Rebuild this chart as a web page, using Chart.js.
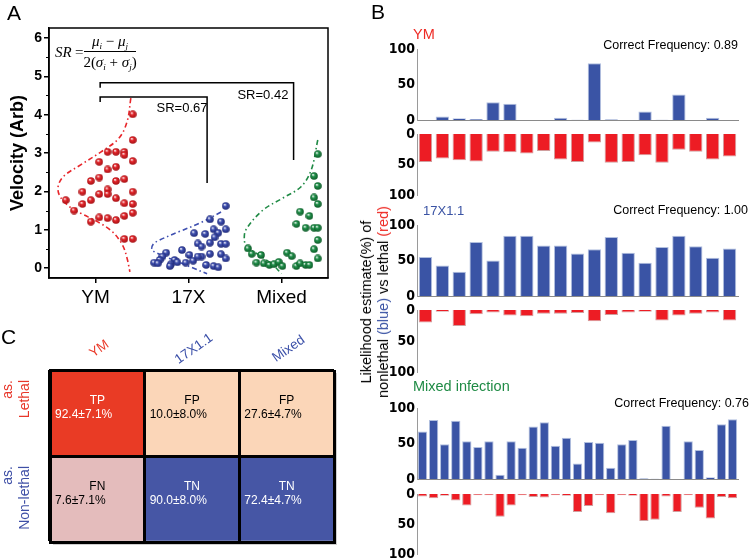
<!DOCTYPE html>
<html>
<head>
<meta charset="utf-8">
<script src="https://cdn.jsdelivr.net/npm/chart.js@4.4.0/dist/chart.umd.min.js"></script>
<style>
  body { margin: 0; width: 750px; height: 560px; overflow: hidden; background: #fff; position: relative;
         font-family: "Liberation Sans", Arial, sans-serif; }
  canvas { position: absolute; }
  .lbl { position: absolute; white-space: nowrap; line-height: 1; transform: translateY(-50%); }
  .ytitle { position: absolute; left: 375px; top: 302px; transform: translate(-50%, -50%) rotate(-90deg);
            font-size: 14.5px; line-height: 17px; text-align: center; white-space: nowrap; }
</style>
</head>
<body>
<canvas id="chartA" width="340" height="310" style="left:0;top:0"></canvas>
<canvas id="b1" width="372" height="91" style="left:375px;top:39px"></canvas>
<canvas id="b2" width="372" height="81" style="left:375px;top:124px"></canvas>
<canvas id="b3" width="372" height="91" style="left:375px;top:215px"></canvas>
<canvas id="b4" width="372" height="82" style="left:375px;top:300px"></canvas>
<canvas id="b5" width="372" height="91" style="left:375px;top:398px"></canvas>
<canvas id="b6" width="372" height="80" style="left:375px;top:484px"></canvas>
<canvas id="chartC" width="345" height="240" style="left:0;top:320px"></canvas>

<div class="lbl" style="left:7px;top:12px;font-size:21px">A</div>
<div class="lbl" style="left:371px;top:11px;font-size:21px">B</div>
<div class="lbl" style="left:1px;top:336px;font-size:21px">C</div>

<div class="lbl" style="left:413px;top:34px;font-size:14.5px;color:#ee2a24">YM</div>
<div class="lbl" style="right:12px;top:45px;font-size:12.5px">Correct Frequency: 0.89</div>
<div class="lbl" style="left:423px;top:210px;font-size:13px;color:#3a53a4">17X1.1</div>
<div class="lbl" style="right:2px;top:210px;font-size:12.5px">Correct Frequency: 1.00</div>
<div class="lbl" style="left:413px;top:386px;font-size:14.5px;color:#1f8b45">Mixed infection</div>
<div class="lbl" style="right:1px;top:403px;font-size:12.5px">Correct Frequency: 0.76</div>
<div class="ytitle">Likelihood estimate(%) of<br>nonlethal <span style="color:#3a53a4">(blue)</span> vs lethal <span style="color:#ee2a24">(red)</span></div>

<script>
// ---- panel A: velocity distributions ----
const groupNames = ["YM", "17X", "Mixed"];
const groupPos = [1, 2, 3];
const velTicks = [0, 1, 2, 3, 4, 5, 6];
const velMinor = [0.5, 1.5, 2.5, 3.5, 4.5, 5.5];

const ymDots = [
  [1.40, 4.01], [1.40, 3.34], [1.13, 3.03], [1.22, 3.03], [1.31, 3.03], [1.31, 2.95], [1.04, 2.77],
  [1.40, 2.79], [1.13, 2.57], [1.22, 2.64], [0.95, 2.27], [1.04, 2.36], [1.22, 2.27], [1.31, 2.32],
  [0.86, 1.99], [1.13, 2.05], [1.04, 1.93], [1.13, 1.93], [1.40, 1.99], [0.68, 1.77], [0.86, 1.67],
  [0.95, 1.77], [1.22, 1.82], [1.31, 1.69], [1.40, 1.67], [0.77, 1.50], [1.40, 1.44], [1.31, 1.36],
  [1.04, 1.32], [1.13, 1.30], [1.22, 1.25], [0.95, 1.21], [1.31, 0.76], [1.40, 0.76],
];
const x17Dots = [
  [2.40, 1.62], [2.23, 1.27], [2.35, 1.21], [2.06, 0.91], [2.18, 0.89], [2.27, 1.01], [2.32, 0.92],
  [2.40, 1.01], [2.28, 0.80], [2.23, 0.66], [2.10, 0.64], [2.14, 0.56], [2.35, 0.63], [2.40, 0.63],
  [1.93, 0.47], [1.76, 0.40], [1.72, 0.30], [2.01, 0.34], [2.14, 0.30], [2.23, 0.37], [2.35, 0.36],
  [2.40, 0.25], [1.69, 0.21], [1.85, 0.21], [2.05, 0.19], [2.10, 0.30], [1.63, 0.14], [1.67, 0.12],
  [1.81, 0.10], [1.88, 0.15], [1.97, 0.14], [2.19, 0.08], [2.27, 0.05], [2.32, 0.02], [1.80, 0.05],
];
const mixDots = [
  [3.39, 2.97], [3.35, 2.40], [3.39, 2.14], [3.35, 1.84], [3.39, 1.67], [3.20, 1.47], [3.30, 1.36],
  [3.16, 1.15], [3.26, 1.05], [3.35, 1.05], [3.39, 1.05], [3.39, 0.73], [2.64, 0.51], [2.68, 0.37],
  [2.78, 0.34], [3.35, 0.49], [3.06, 0.40], [3.11, 0.31], [3.39, 0.25], [2.73, 0.14], [2.81, 0.12],
  [2.87, 0.08], [2.92, 0.10], [2.97, 0.16], [3.01, 0.05], [3.16, 0.05], [3.20, 0.12], [3.26, 0.08],
  [3.30, 0.08],
];
const ymCurve = [
  [1.38, 4.43], [1.34, 3.82], [1.25, 3.38], [1.06, 3.03], [0.84, 2.69], [0.66, 2.40], [0.60, 2.15],
  [0.61, 1.91], [0.70, 1.64], [0.84, 1.43], [1.02, 1.21], [1.18, 0.95], [1.29, 0.60], [1.34, 0.25],
  [1.37, -0.10],
];
const x17Curve = [
  [2.35, 1.46], [2.12, 1.17], [1.90, 0.95], [1.69, 0.73], [1.62, 0.62], [1.61, 0.47], [1.75, 0.30],
  [1.90, 0.15], [2.05, 0.00], [2.20, -0.15],
];
const mixCurve = [
  [3.39, 3.34], [3.32, 2.56], [3.21, 2.12], [3.01, 1.82], [2.80, 1.51], [2.62, 1.01], [2.60, 0.73],
  [2.63, 0.55], [2.75, 0.35], [2.90, 0.10], [3.00, -0.15],
];
// significance brackets (data units)
const bracket042 = [[1.05, 4.70], [1.05, 4.83], [3.13, 4.83], [3.13, 2.82]];
const bracket067 = [[1.05, 4.33], [1.05, 4.46], [2.20, 4.46], [2.20, 2.22]];
const srLabels = [
  { text: "SR=0.67", x: 1.93, y: 4.17 },
  { text: "SR=0.42", x: 2.80, y: 4.49 },
];

// ---- panel B: likelihood per sample ----
const ymBlue = [0, 5, 2.5, 1.5, 25, 23, 0, 0, 3, 0.5, 80, 1, 0, 12, 0.5, 36, 0, 3, 0];
const ymRed = [46, 40, 43, 45, 29, 30, 32, 28, 42, 46, 14, 47, 46, 35, 47, 26, 29, 42, 37];
const x17Blue = [55, 43, 34, 76, 50, 85, 85, 71, 71, 60, 66, 83, 61, 47, 69, 85, 70, 54, 67];
const x17Red = [20, 3, 26, 7, 4, 9, 10, 6, 6, 5, 18, 8, 4, 3, 17, 9, 6, 4, 17];
const mixBlue = [67, 83, 49, 82, 53, 45, 53, 6, 53, 44, 74, 80, 47, 58, 22, 52, 51, 16, 49, 55, 1, 0.5, 75, 0, 53, 41, 2.5, 77, 84];
const mixRed = [4, 7, 3, 11, 19, 2, 2, 38, 19, 2, 5, 6, 2, 3, 30, 20, 2, 32, 2, 3, 45, 43, 4, 30, 2, 23, 41, 5, 7];

// ---- panel C: confusion matrix ----
const matCols = ["YM", "17X1.1", "Mixed"];
const matRows = ["Lethal", "Non-lethal"];
const lethalTags = ["TP", "FP", "FP"];
const lethalVals = ["92.4±7.1%", "10.0±8.0%", "27.6±4.7%"];
const nonLethalTags = ["FN", "TN", "TN"];
const nonLethalVals = ["7.6±7.1%", "90.0±8.0%", "72.4±4.7%"];

const SANS = '"Liberation Sans", Arial, sans-serif';
const NARROW = '"Liberation Sans Narrow", "DejaVu Sans Condensed", "Liberation Sans", Arial, sans-serif';
const SERIF = '"Liberation Serif", "DejaVu Serif", serif';

const toXY = (arr) => arr.map(([x, y]) => ({ x, y }));

function sphere(color, dark) {
  const c = document.createElement("canvas");
  c.width = c.height = 8;
  const g = c.getContext("2d");
  const grd = g.createRadialGradient(2.9, 2.6, 0.2, 4, 4, 4.2);
  grd.addColorStop(0, "#ffffff");
  grd.addColorStop(0.35, color);
  grd.addColorStop(1, dark);
  g.fillStyle = grd;
  g.beginPath();
  g.arc(4, 4, 3.8, 0, Math.PI * 2);
  g.fill();
  return c;
}

function dots(arr, color, dark) {
  return { data: toXY(arr), pointStyle: sphere(color, dark), pointRadius: 4, showLine: false };
}

function curve(arr, color) {
  return {
    data: toXY(arr), showLine: true, pointRadius: 0, borderColor: color, borderWidth: 1.6,
    borderDash: [5, 3, 1.5, 3], tension: 0.35, fill: false,
  };
}

function bracket(arr) {
  return { data: toXY(arr), showLine: true, pointRadius: 0, borderColor: "#000", borderWidth: 1.5, tension: 0 };
}

function runsWidth(ctx, runs) {
  let w = 0;
  runs.forEach((r) => { ctx.font = r.f; w += ctx.measureText(r.t).width; });
  return w;
}

function drawRuns(ctx, runs, x, base) {
  runs.forEach((r) => {
    ctx.font = r.f;
    ctx.fillText(r.t, x, base + (r.dy || 0));
    x += ctx.measureText(r.t).width;
  });
}

const frameA = {
  id: "frameA",
  afterDraw(chart) {
    const { ctx, chartArea: a, scales: { x, y } } = chart;
    ctx.save();
    ctx.strokeStyle = "#000";
    ctx.lineWidth = 1.5;
    ctx.strokeRect(a.left, a.top, a.right - a.left, a.bottom - a.top);
    ctx.lineWidth = 1;
    velMinor.forEach((v) => {
      const py = Math.round(y.getPixelForValue(v)) + 0.5;
      ctx.beginPath();
      ctx.moveTo(a.left - 3, py);
      ctx.lineTo(a.left, py);
      ctx.stroke();
    });

    ctx.fillStyle = "#000";
    ctx.textAlign = "center";
    ctx.textBaseline = "middle";
    ctx.font = "13px " + SANS;
    srLabels.forEach((l) => ctx.fillText(l.text, x.getPixelForValue(l.x), y.getPixelForValue(l.y)));

    // SR formula
    ctx.textAlign = "left";
    ctx.textBaseline = "alphabetic";
    const it = "italic 15px " + SERIF;
    const up = "15px " + SERIF;
    const sub = "italic 9px " + SERIF;
    ctx.font = it;
    ctx.fillText("SR", a.left + 6, 57);
    ctx.font = up;
    ctx.fillText("=", a.left + 26, 57);
    const num = [{ t: "μ", f: it }, { t: "i", f: sub, dy: 3 }, { t: " − ", f: up }, { t: "μ", f: it }, { t: "j", f: sub, dy: 3 }];
    const den = [{ t: "2(", f: up }, { t: "σ", f: it }, { t: "i", f: sub, dy: 3 }, { t: " + ", f: up },
                 { t: "σ", f: it }, { t: "j", f: sub, dy: 3 }, { t: ")", f: up }];
    const fx0 = a.left + 35, fx1 = a.left + 87, fcx = (fx0 + fx1) / 2;
    drawRuns(ctx, num, fcx - runsWidth(ctx, num) / 2, 46);
    drawRuns(ctx, den, fcx - runsWidth(ctx, den) / 2, 67);
    ctx.lineWidth = 1;
    ctx.beginPath();
    ctx.moveTo(fx0, 51.5);
    ctx.lineTo(fx1, 51.5);
    ctx.stroke();
    ctx.restore();
  },
};

new Chart(document.getElementById("chartA"), {
  type: "scatter",
  data: {
    datasets: [
      dots(ymDots, "#e3262b", "#9c0f12"),
      dots(x17Dots, "#3e4fb0", "#1d2670"),
      dots(mixDots, "#20904a", "#0c5424"),
      curve(ymCurve, "#e8262b"),
      curve(x17Curve, "#3e4fb0"),
      curve(mixCurve, "#1f8a45"),
      bracket(bracket042),
      bracket(bracket067),
    ],
  },
  options: {
    responsive: false,
    animation: false,
    devicePixelRatio: 1,
    layout: { padding: { top: 28, right: 12, left: 0, bottom: 0 } },
    plugins: { legend: { display: false }, tooltip: { enabled: false } },
    scales: {
      x: {
        type: "linear", min: 0.5, max: 3.5,
        afterBuildTicks: (s) => { s.ticks = groupPos.map((v) => ({ value: v })); },
        afterFit: (s) => { s.height = 32; },
        ticks: { callback: (v, i) => groupNames[i], color: "#000", font: { family: SANS, size: 19 }, padding: 3, maxRotation: 0 },
        grid: { drawOnChartArea: false, drawTicks: true, tickLength: 5, color: "#000", lineWidth: 1.5 },
        border: { color: "#000", width: 1.5 },
      },
      y: {
        min: -0.26, max: 6.26,
        afterBuildTicks: (s) => { s.ticks = velTicks.map((v) => ({ value: v })); },
        afterFit: (s) => { s.width = 49; },
        ticks: { color: "#000", font: { family: SANS, size: 14, weight: "bold" }, padding: 2 },
        grid: { drawOnChartArea: false, drawTicks: true, tickLength: 5, color: "#000", lineWidth: 1.5 },
        border: { color: "#000", width: 1.5 },
        title: { display: true, text: "Velocity (Arb)", color: "#000", font: { family: SANS, size: 18, weight: "bold" },
                 padding: { top: 7, bottom: 0 } },
      },
    },
  },
  plugins: [frameA],
});

// ---- panel B ----
function barPanel(id, values, reverse, barPct) {
  return new Chart(document.getElementById(id), {
    type: "bar",
    data: {
      labels: values.map((_, i) => String(i + 1)),
      datasets: [{
        data: values,
        backgroundColor: reverse ? "#ed1c24" : "#3a54a5",
        borderColor: reverse ? "rgba(150,40,40,0.45)" : "rgba(170,185,220,0.9)",
        borderWidth: 1,
        barPercentage: barPct,
        categoryPercentage: 1,
      }],
    },
    options: {
      responsive: false,
      animation: false,
      devicePixelRatio: 1,
      layout: { padding: { top: 10, bottom: 10, left: 0, right: 9 } },
      plugins: { legend: { display: false }, tooltip: { enabled: false } },
      scales: {
        x: {
          ticks: { display: false },
          grid: { display: false, drawTicks: false },
          border: { display: !reverse, color: "#8a8a8a", width: 1 },
          afterFit: (s) => { s.height = 0; },
        },
        y: {
          min: 0, max: 100, reverse,
          ticks: { stepSize: 50, color: "#000", padding: 2,
                   font: { family: NARROW, size: 14, weight: "bold", lineHeight: 1 } },
          grid: { display: false, drawTicks: false },
          border: { display: true, color: "#9a9a9a", width: 1 },
          afterFit: (s) => { s.width = 42; },
        },
      },
    },
  });
}

barPanel("b1", ymBlue, false, 0.79);
barPanel("b2", ymRed, true, 0.79);
barPanel("b3", x17Blue, false, 0.79);
barPanel("b4", x17Red, true, 0.79);
barPanel("b5", mixBlue, false, 0.84);
barPanel("b6", mixRed, true, 0.84);

// ---- panel C ----
const cellText = {
  id: "cellText",
  beforeDraw(chart) {
    const { ctx, chartArea: a } = chart;
    ctx.save();
    ctx.fillStyle = "#cfcfcf";
    ctx.fillRect(a.left + 3, a.top + 3, a.right - a.left, a.bottom - a.top);
    ctx.restore();
  },
  afterDraw(chart) {
    const { ctx, scales: { x, y }, chartArea: a } = chart;
    const colW = (a.right - a.left) / matCols.length;
    const rows = [
      { tags: lethalTags, vals: lethalVals, colors: ["#fff", "#000", "#000"], mid: 1.5 },
      { tags: nonLethalTags, vals: nonLethalVals, colors: ["#000", "#fff", "#fff"], mid: 0.5 },
    ];
    ctx.save();
    ctx.textBaseline = "middle";
    rows.forEach((r) => {
      const yc = y.getPixelForValue(r.mid);
      r.tags.forEach((t, i) => {
        const cx = x.getPixelForValue(i);
        ctx.fillStyle = r.colors[i];
        ctx.font = "12px " + SANS;
        ctx.textAlign = "center";
        ctx.fillText(t, cx, yc - 12);
        ctx.textAlign = "left";
        ctx.fillText(r.vals[i], cx - colW / 2 + 5, yc + 2);
      });
    });

    // column headers
    const colColors = ["#ea3a2a", "#3a4fa8", "#3a4fa8"];
    ctx.font = "13.5px " + SANS;
    ctx.textAlign = "center";
    matCols.forEach((c, i) => {
      ctx.save();
      ctx.translate(x.getPixelForValue(i) + 2, a.top - 21);
      ctx.rotate(-35 * Math.PI / 180);
      ctx.fillStyle = colColors[i];
      ctx.fillText(c, 0, 0);
      ctx.restore();
    });

    // row headers
    const rowColors = ["#e8372a", "#3e4fa6"];
    ctx.font = "14px " + SANS;
    ctx.textAlign = "right";
    matRows.forEach((name, i) => {
      const top = y.getPixelForValue(2 - i);
      ctx.save();
      ctx.translate(0, top + 10);
      ctx.rotate(-Math.PI / 2);
      ctx.fillStyle = rowColors[i];
      ctx.fillText("as.", 0, 8);
      ctx.fillText(name, 0, 25);
      ctx.restore();
    });
    ctx.restore();
  },
};

new Chart(document.getElementById("chartC"), {
  type: "bar",
  data: {
    labels: matCols,
    datasets: [
      { label: "Non-lethal", data: [1, 1, 1], backgroundColor: ["#e4bcbc", "#4656a5", "#4656a5"],
        barPercentage: 1, categoryPercentage: 1 },
      { label: "Lethal", data: [1, 1, 1], backgroundColor: ["#e93b25", "#fbd6b8", "#fbd6b8"],
        barPercentage: 1, categoryPercentage: 1 },
    ],
  },
  options: {
    responsive: false,
    animation: false,
    devicePixelRatio: 1,
    layout: { padding: { top: 50, right: 11, left: 50, bottom: 18 } },
    plugins: { legend: { display: false }, tooltip: { enabled: false } },
    scales: {
      x: {
        stacked: true,
        ticks: { display: false },
        grid: { display: true, offset: true, drawTicks: false, color: "#000", lineWidth: 3, z: 1 },
        border: { display: true, color: "#000", width: 3, z: 1 },
        afterFit: (s) => { s.height = 0; },
      },
      y: {
        stacked: true, min: 0, max: 2,
        ticks: { display: false, stepSize: 1 },
        grid: { display: true, drawTicks: false, color: "#000", lineWidth: 3, z: 1 },
        border: { display: true, color: "#000", width: 3, z: 1 },
        afterFit: (s) => { s.width = 0; },
      },
    },
  },
  plugins: [cellText],
});
</script>
</body>
</html>
